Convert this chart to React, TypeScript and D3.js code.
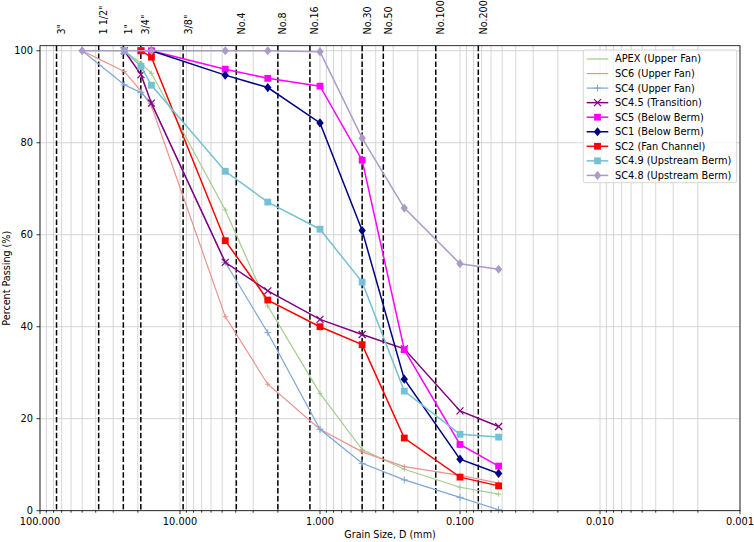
import * as d3 from "d3";

// grain sizes (mm) where samples were measured
const sizes = [50, 25, 19, 16, 4.75, 2.36, 1.0, 0.5, 0.25, 0.1, 0.053];

const apex = [null, 100, 97.3, 95.1, 65.4, 44.5, 25.5, 13.3, 9.0, 5.1, 3.6];
const sc6 = [100, 95.5, 91.2, 88.0, 42.2, 27.5, 17.7, 12.8, 9.6, 7.7, 6.0];
const sc4 = [100, 92.6, 90.9, 88.6, 54.0, 38.7, 17.7, 10.3, 6.7, 2.9, 0.2];
const sc45 = [null, 100, 94.8, 88.6, 54.0, 47.8, 41.6, 38.3, 35.2, 21.7, 18.3];
const sc5 = [null, null, 100, 100, 96.0, 94.0, 92.3, 76.2, 35.0, 14.4, 9.7];
const sc1 = [null, null, null, 100, 94.7, 92.0, 84.3, 60.9, 28.6, 11.2, 8.1];
const sc2 = [null, null, 100, 98.6, 58.7, 45.8, 40.0, 36.1, 15.8, 7.3, 5.4];
const sc49 = [null, 100, 96.6, 92.5, 73.8, 67.1, 61.2, 49.7, 26.0, 16.6, 16.0];
const sc48 = [100, 100, null, 100, 100, 100, 99.8, 81.0, 65.8, 53.7, 52.5];

const seriesNames = [
  "APEX (Upper Fan)",
  "SC6 (Upper Fan)",
  "SC4 (Upper Fan)",
  "SC4.5 (Transition)",
  "SC5 (Below Berm)",
  "SC1 (Below Berm)",
  "SC2 (Fan Channel)",
  "SC4.9 (Upstream Berm)",
  "SC4.8 (Upstream Berm)",
];

// sieve reference lines
const sieveLabels = ['3"', '1 1/2"', '1"', '3/4"', '3/8"', "No.4", "No.8", "No.16", "No.30", "No.50", "No.100", "No.200"];
const sieveSizes = [76.2, 38.1, 25.4, 19.05, 9.5, 3.96, 2.0, 1.18, 0.5, 0.353, 0.149, 0.074];

const yTicks = [0, 20, 40, 60, 80, 100];
const xMajor = [100, 10, 1, 0.1, 0.01, 0.001];

type Marker = "none" | "tick" | "plus" | "x" | "square" | "diamond";

const styles: { values: (number | null)[]; color: string; width: number; marker: Marker; ms: number }[] = [
  { values: apex, color: "#a3cc8c", width: 1.2, marker: "tick", ms: 2.5 },
  { values: sc6, color: "#e8928f", width: 1.2, marker: "tick", ms: 2.5 },
  { values: sc4, color: "#7ea6d6", width: 1.2, marker: "plus", ms: 3.5 },
  { values: sc45, color: "#800080", width: 1.5, marker: "x", ms: 3.5 },
  { values: sc5, color: "#ff00ff", width: 1.5, marker: "square", ms: 3.4 },
  { values: sc1, color: "#000080", width: 1.5, marker: "diamond", ms: 4.6 },
  { values: sc2, color: "#ff0000", width: 1.5, marker: "square", ms: 3.4 },
  { values: sc49, color: "#74c1d5", width: 1.5, marker: "square", ms: 3.4 },
  { values: sc48, color: "#aa9bc8", width: 1.5, marker: "diamond", ms: 4.6 },
];

const FONT = "DejaVu Sans, sans-serif";

function MarkerShape({ kind, cx, cy, color, r }: { kind: Marker; cx: number; cy: number; color: string; r: number }) {
  if (kind === "none") return null;
  if (kind === "tick" || kind === "plus")
    return (
      <path d={`M${cx - r},${cy}H${cx + r}M${cx},${cy - r}V${cy + r}`} stroke={color} strokeWidth={1} fill="none" />
    );
  if (kind === "x")
    return (
      <path
        d={`M${cx - r},${cy - r}L${cx + r},${cy + r}M${cx - r},${cy + r}L${cx + r},${cy - r}`}
        stroke={color}
        strokeWidth={1.2}
        fill="none"
      />
    );
  if (kind === "square") return <rect x={cx - r} y={cy - r} width={2 * r} height={2 * r} fill={color} />;
  return <path d={`M${cx},${cy - r}L${cx + r * 0.8},${cy}L${cx},${cy + r}L${cx - r * 0.8},${cy}Z`} fill={color} />;
}

export default function App() {
  const W = 754;
  const H = 542;
  const left = 40;
  const right = 740;
  const top = 45.7;
  const bottom = 510.7;

  const x = d3.scaleLog().domain([100, 0.001]).range([left, right]);
  const y = d3.scaleLinear().domain([0, 101.1]).range([bottom, top]);

  const minor: number[] = [];
  for (let e = -3; e <= 1; e++) for (let k = 1; k <= 9; k++) minor.push(k * Math.pow(10, e));
  minor.push(100);

  const line = d3
    .line<[number, number]>()
    .x((d) => x(d[0]))
    .y((d) => y(d[1]));

  const fmt = d3.format(".3f");

  const legX = 583.3;
  const legY = 50;
  const rowY = (i: number) => 59 + i * 14.55;

  return (
    <svg width={W} height={H} style={{ position: "absolute", left: 0, top: 0, background: "#fff" }} fontFamily={FONT}>
      {/* grid */}
      <g stroke="#cccccc" strokeWidth={0.8}>
        {minor.map((v, i) => (
          <line key={"gx" + i} x1={x(v)} x2={x(v)} y1={top} y2={bottom} />
        ))}
        {yTicks.map((v) => (
          <line key={"gy" + v} x1={left} x2={right} y1={y(v)} y2={y(v)} />
        ))}
      </g>

      {/* sieve lines */}
      <g>
        {sieveSizes.map((s, i) => (
          <line
            key={"sv" + i}
            x1={x(s)}
            x2={x(s)}
            y1={top}
            y2={bottom}
            stroke="#000"
            strokeWidth={1.5}
            strokeDasharray="5.5,2.4"
          />
        ))}
        {sieveLabels.map((t, i) => (
          <text
            key={"sl" + i}
            transform={`translate(${x(sieveSizes[i]) + 8.5},34.5) rotate(-90)`}
            fontSize={9.6}
            fill="#000"
          >
            {t}
          </text>
        ))}
      </g>

      {/* series */}
      {styles.map((s, si) => {
        const pts = sizes
          .map((sz, i) => [sz, s.values[i]] as [number, number | null])
          .filter((d) => d[1] != null) as [number, number][];
        return (
          <g key={"s" + si}>
            <path d={line(pts) || ""} fill="none" stroke={s.color} strokeWidth={s.width} />
            {pts.map((p, j) => (
              <MarkerShape key={j} kind={s.marker} cx={x(p[0])} cy={y(p[1])} color={s.color} r={s.ms} />
            ))}
          </g>
        );
      })}

      {/* axes frame */}
      <rect x={left} y={top} width={right - left} height={bottom - top} fill="none" stroke="#000" strokeWidth={0.8} />

      {/* x ticks */}
      <g stroke="#000" strokeWidth={0.8}>
        {minor.map((v, i) => {
          const major = xMajor.some((m) => Math.abs(Math.log10(m) - Math.log10(v)) < 1e-9);
          return <line key={"xt" + i} x1={x(v)} x2={x(v)} y1={bottom} y2={bottom + (major ? 3.5 : 2)} />;
        })}
        {yTicks.map((v) => (
          <line key={"yt" + v} x1={left - 3.5} x2={left} y1={y(v)} y2={y(v)} />
        ))}
      </g>
      <g fontSize={9.8} fill="#000">
        {xMajor.map((v) => (
          <text key={"xl" + v} x={x(v)} y={525} textAnchor="middle">
            {fmt(v)}
          </text>
        ))}
        {yTicks.map((v) => (
          <text key={"yl" + v} x={33} y={y(v)} dy="0.35em" textAnchor="end">
            {v}
          </text>
        ))}
      </g>
      <text x={(left + right) / 2} y={537.5} textAnchor="middle" fontSize={9.6}>
        Grain Size, D (mm)
      </text>
      <text transform={`translate(9.5,${(top + bottom) / 2}) rotate(-90)`} textAnchor="middle" fontSize={9.6}>
        Percent Passing (%)
      </text>

      {/* legend */}
      <rect
        x={legX}
        y={legY}
        width={153.4}
        height={132.7}
        rx={2}
        fill="#fff"
        fillOpacity={0.8}
        stroke="#cccccc"
        strokeWidth={0.8}
      />
      {styles.map((s, i) => {
        const cy = rowY(i);
        return (
          <g key={"lg" + i}>
            <line x1={586.7} x2={608.3} y1={cy} y2={cy} stroke={s.color} strokeWidth={s.width} />
            {s.marker !== "tick" && (
              <MarkerShape kind={s.marker} cx={597.5} cy={cy} color={s.color} r={s.ms} />
            )}
            <text x={615} y={cy} dy="0.35em" fontSize={9.8}>
              {seriesNames[i]}
            </text>
          </g>
        );
      })}
    </svg>
  );
}
